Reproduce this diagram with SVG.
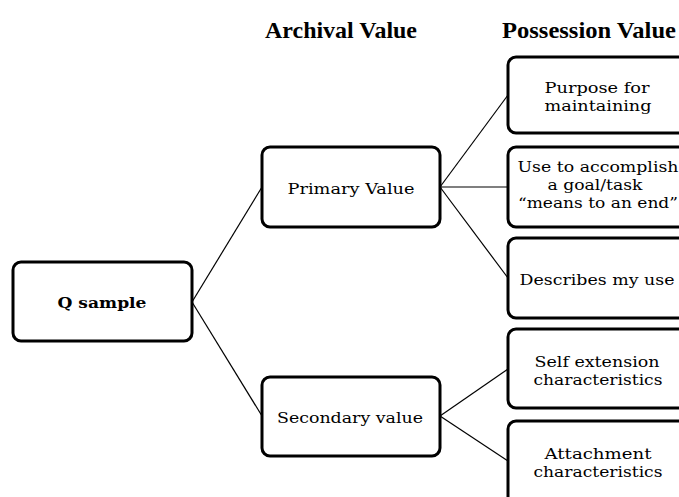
<svg xmlns="http://www.w3.org/2000/svg" width="679" height="497" viewBox="0 0 679 497">
<style>
.box{fill:#fff;stroke:#000;stroke-width:3}
.t{font-family:"DejaVu Serif","Liberation Serif",serif;font-size:15.5px;fill:#000;text-anchor:middle}
.b{font-weight:bold}
.h{font-family:"Liberation Serif","Times New Roman",serif;font-size:23px;font-weight:bold;fill:#000;text-anchor:middle}
.c{stroke:#000;stroke-width:1.2;fill:none}
</style>
<rect width="679" height="497" fill="#fff"/>
<g id="headings">
<text class="h" x="341" y="38" textLength="152" lengthAdjust="spacingAndGlyphs">Archival Value</text>
<text class="h" x="589" y="38" textLength="174" lengthAdjust="spacingAndGlyphs">Possession Value</text>
</g>
<g id="connectors">
<line class="c" x1="192" y1="302" x2="262" y2="187"/>
<line class="c" x1="192" y1="302" x2="262" y2="416"/>
<line class="c" x1="440" y1="187" x2="508" y2="95"/>
<line class="c" x1="440" y1="187" x2="508" y2="187"/>
<line class="c" x1="440" y1="187" x2="508" y2="278"/>
<line class="c" x1="440" y1="416" x2="508" y2="369"/>
<line class="c" x1="440" y1="416" x2="508" y2="461"/>
</g>
<g id="q-sample">
<rect class="box" x="13" y="262" width="179" height="79" rx="8"/>
<text class="t b" x="102" y="308" textLength="89" lengthAdjust="spacingAndGlyphs">Q sample</text>
</g>
<g id="primary-value">
<rect class="box" x="262" y="147" width="178" height="80" rx="8"/>
<text class="t" x="351" y="194" textLength="127" lengthAdjust="spacingAndGlyphs">Primary Value</text>
</g>
<g id="secondary-value">
<rect class="box" x="262" y="377" width="178" height="79" rx="8"/>
<text class="t" x="350" y="423" textLength="146" lengthAdjust="spacingAndGlyphs">Secondary value</text>
</g>
<g id="purpose">
<rect class="box" x="508" y="57" width="180" height="76" rx="8"/>
<text class="t" x="597" y="93" textLength="105" lengthAdjust="spacingAndGlyphs">Purpose for</text>
<text class="t" x="598" y="111" textLength="107" lengthAdjust="spacingAndGlyphs">maintaining</text>
</g>
<g id="use">
<rect class="box" x="508" y="147" width="180" height="80" rx="8"/>
<text class="t" x="598" y="172" textLength="161" lengthAdjust="spacingAndGlyphs">Use to accomplish</text>
<text class="t" x="595" y="190" textLength="95" lengthAdjust="spacingAndGlyphs">a goal/task</text>
<text class="t" x="598" y="208" textLength="160" lengthAdjust="spacingAndGlyphs">“means to an end”</text>
</g>
<g id="describes">
<rect class="box" x="508" y="238" width="180" height="80" rx="8"/>
<text class="t" x="597" y="285" textLength="155" lengthAdjust="spacingAndGlyphs">Describes my use</text>
</g>
<g id="self-extension">
<rect class="box" x="508" y="329" width="180" height="79" rx="8"/>
<text class="t" x="597" y="367" textLength="125" lengthAdjust="spacingAndGlyphs">Self extension</text>
<text class="t" x="598" y="385" textLength="129" lengthAdjust="spacingAndGlyphs">characteristics</text>
</g>
<g id="attachment">
<rect class="box" x="508" y="421" width="180" height="86" rx="8"/>
<text class="t" x="598" y="459" textLength="107" lengthAdjust="spacingAndGlyphs">Attachment</text>
<text class="t" x="598" y="477" textLength="129" lengthAdjust="spacingAndGlyphs">characteristics</text>
</g>
</svg>
